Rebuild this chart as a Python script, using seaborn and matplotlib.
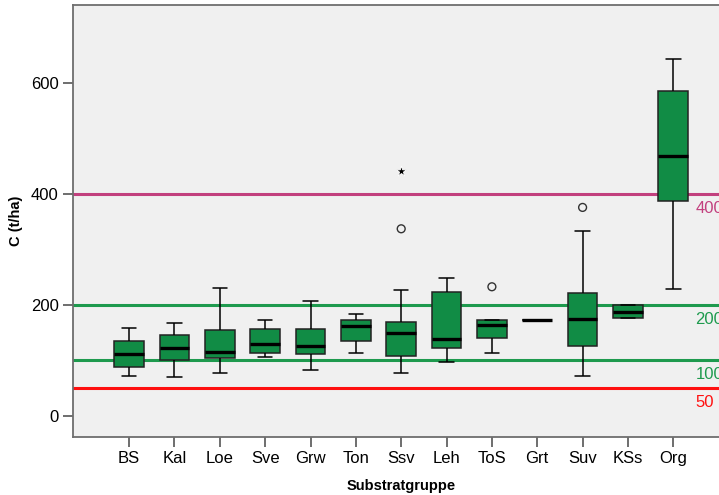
"""Boxplot C (t/ha) je Substratgruppe, SPSS-Stil, mit Referenzlinien."""

import matplotlib

matplotlib.use("Agg")
import matplotlib.pyplot as plt
import pandas as pd
import seaborn as sns

# five-number summaries (min, Q1, median, Q3, max)
groups = ["BS", "Kal", "Loe", "Sve", "Grw", "Ton", "Ssv", "Leh", "ToS", "Grt", "Suv", "KSs", "Org"]
lows = [71.5, 70, 77.5, 106, 82, 112, 77.5, 96, 112, 172.5, 71.5, 175.5, 228]
q1s = [88, 100, 103, 112, 111, 135, 108, 121.5, 140, 172.5, 124.5, 175.5, 386.5]
medians = [111, 121, 115, 128, 124.5, 161.5, 149.5, 137.5, 164, 172.5, 174, 187, 468]
q3s = [134, 145.5, 154.5, 155, 155, 172.5, 168, 223, 173, 172.5, 221, 198.5, 584]
highs = [158.5, 166.5, 229.5, 173, 206, 182.5, 225.5, 247, 173, 172.5, 333, 198.5, 642]

# outliers: circles and extreme values (star)
out_groups = ["Ssv", "ToS", "Suv"]
out_values = [336.5, 232, 375]
extreme_groups = ["Ssv"]
extreme_values = [441]

# reference levels
ref_levels = [400, 200, 100, 50]
ref_labels = ["400", "200", "100", "50"]
ref_colors = ["#c2407e", "#1e9a4e", "#1e9a4e", "#ff1010"]

rows = []
for g, a, b, c, d, e in zip(groups, lows, q1s, medians, q3s, highs):
    for v in (a, b, c, d, e):
        rows.append({"Substratgruppe": g, "C": v})
df = pd.DataFrame(rows)
out_df = pd.DataFrame({"Substratgruppe": out_groups, "C": out_values})
ext_df = pd.DataFrame({"Substratgruppe": extreme_groups, "C": extreme_values})

sns.set_theme(style="white")
plt.rcParams["font.family"] = ["Liberation Sans", "DejaVu Sans"]

fig = plt.figure(figsize=(7.19, 4.95), dpi=100)
ax = fig.add_axes([0.102, 0.118, 0.912, 0.871])
ax.set_facecolor("#f0f0f0")

for lvl, col in zip(ref_levels, ref_colors):
    ax.axhline(lvl, color=col, lw=2.2, zorder=1)

sns.boxplot(data=df, x="Substratgruppe", y="C", order=groups, whis=(0, 100),
            width=0.655, color="#118c45", saturation=1, showfliers=False,
            linecolor="#222222", linewidth=1.1,
            medianprops={"color": "black", "linewidth": 2.4},
            capprops={"color": "black"}, whiskerprops={"color": "black"},
            capwidths=0.32, ax=ax, zorder=3)
sns.scatterplot(data=out_df, x="Substratgruppe", y="C", marker="o", s=32,
                facecolor="none", edgecolor="#333333", linewidth=1.0, ax=ax, zorder=4)
sns.scatterplot(data=ext_df, x="Substratgruppe", y="C", marker="*", s=60,
                color="black", ax=ax, zorder=4)

for lvl, lab, col in zip(ref_levels, ref_labels, ref_colors):
    ax.annotate(lab, xy=(12.49, lvl), xytext=(0, -10.5), textcoords="offset points",
                color=col, fontsize=12, va="center", ha="left",
                annotation_clip=False)

ax.set_xlim(-1.23, 13.23)
ax.set_ylim(-38, 739)
ax.set_yticks([0, 200, 400, 600])
ax.set_ylabel("C (t/ha)", fontsize=10.5, fontweight="bold", labelpad=6, color="black")
ax.set_xlabel("Substratgruppe", fontsize=10.5, fontweight="bold", labelpad=9, color="black")
ax.tick_params(axis="both", length=7, width=1.2, color="#555555", labelsize=12,
               labelcolor="black", direction="out", bottom=True, left=True)
for s in ax.spines.values():
    s.set_color("#6e6e6e")
    s.set_linewidth(1.3)

fig.savefig("out.png", dpi=100)
